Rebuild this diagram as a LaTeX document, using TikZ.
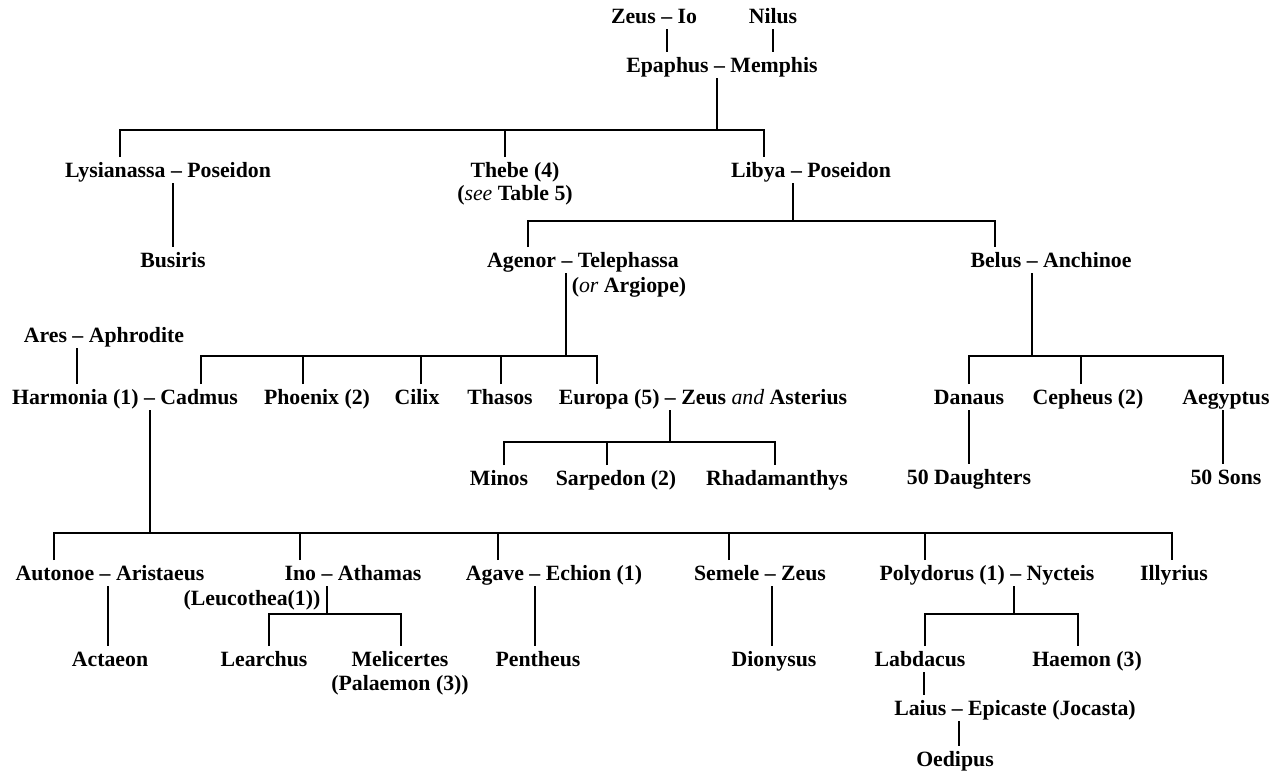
\documentclass[tikz,border=0pt]{standalone}
\usepackage{fontspec}
\setmainfont{Liberation Serif}
\usepackage{tikz}
\usetikzlibrary{calc}
\newcommand{\itword}[1]{{\mdseries\itshape #1}}

\begin{document}
\begin{tikzpicture}[x=0.02cm,y=-0.02cm,
			person/.style={font=\fontsize{12.4}{14}\selectfont\bfseries, text height=10.7pt, text depth=2.5pt, inner xsep=0pt, inner ysep=0.8pt, outer sep=0pt},
			link/.style={line width=1pt}]
			\useasboundingbox (0,0) rectangle (1279,771);
			\node[person] (zeus) at (654,16) {Zeus – Io};
			\node[person] (nilus) at (773,16) {Nilus};
			\node[person] (epaphus) at (722,65) {Epaphus – Memphis};
			\node[person] (lysianassa) at (168,170) {Lysianassa – Poseidon};
			\node[person] (thebe) at (515,170) {Thebe (4)};
			\node[person] (thebenote) at (515,193) {(\itword{see} Table 5)};
			\node[person] (libya) at (811,170) {Libya – Poseidon};
			\node[person] (busiris) at (173,260) {Busiris};
			\node[person] (agenor) at (583,260) {Agenor – Telephassa};
			\node[person] (agenornote) at (629,285) {(\itword{or} Argiope)};
			\node[person] (belus) at (1051,260) {Belus – Anchinoe};
			\node[person] (ares) at (104,335) {Ares – Aphrodite};
			\node[person] (harmonia) at (125,397) {Harmonia (1) – Cadmus};
			\node[person] (phoenix) at (317,397) {Phoenix (2)};
			\node[person] (cilix) at (417,397) {Cilix};
			\node[person] (thasos) at (500,397) {Thasos};
			\node[person] (europa) at (703,397) {Europa (5) – Zeus \itword{and} Asterius};
			\node[person] (danaus) at (969,397) {Danaus};
			\node[person] (cepheus) at (1088,397) {Cepheus (2)};
			\node[person] (aegyptus) at (1226,397) {Aegyptus};
			\node[person] (minos) at (499,478) {Minos};
			\node[person] (sarpedon) at (616,478) {Sarpedon (2)};
			\node[person] (rhadamanthys) at (777,478) {Rhadamanthys};
			\node[person] (daughters) at (969,477) {50 Daughters};
			\node[person] (sons) at (1226,477) {50 Sons};
			\node[person] (autonoe) at (110,573) {Autonoe – Aristaeus};
			\node[person] (ino) at (353,573) {Ino – Athamas};
			\node[person] (inonote) at (252,598) {(Leucothea(1))};
			\node[person] (agave) at (554,573) {Agave – Echion (1)};
			\node[person] (semele) at (760,573) {Semele – Zeus};
			\node[person] (polydorus) at (987,573) {Polydorus (1) – Nycteis};
			\node[person] (illyrius) at (1174,573) {Illyrius};
			\node[person] (actaeon) at (110,659) {Actaeon};
			\node[person] (learchus) at (264,659) {Learchus};
			\node[person] (melicertes) at (400,659) {Melicertes};
			\node[person] (melicertesnote) at (400,683) {(Palaemon (3))};
			\node[person] (pentheus) at (538,659) {Pentheus};
			\node[person] (dionysus) at (774,659) {Dionysus};
			\node[person] (labdacus) at (920,659) {Labdacus};
			\node[person] (haemon) at (1087,659) {Haemon (3)};
			\node[person] (laius) at (1015,708) {Laius – Epicaste (Jocasta)};
			\node[person] (oedipus) at (955,759) {Oedipus};
			\coordinate (epaphusJ) at (717,130);
			\coordinate (libyaJ) at (793,221);
			\coordinate (agenorJ) at (566,356);
			\coordinate (belusJ) at (1032,356);
			\coordinate (europaJ) at (670,442);
			\coordinate (harmoniaJ) at (150,533);
			\coordinate (inoJ) at (327,614);
			\coordinate (polydorusJ) at (1014,614);
			\draw[link] ($(zeus.south)+(13,0)$) -- ($(epaphus.north)+(-55,0)$);
			\draw[link] (nilus.south) -- ($(epaphus.north)+(51,0)$);
			\draw[link] ($(epaphus.south)+(-5,0)$) -- (epaphusJ);
			\draw[link] ($(lysianassa.north)+(-48,0)$) |- (epaphusJ) -| ($(libya.north)+(-47,0)$);
			\draw[link] ($(thebe.north)+(-10,0)$) |- (epaphusJ);
			\draw[link] ($(lysianassa.south)+(5,0)$) -- (busiris.north);
			\draw[link] ($(libya.south)+(-18,0)$) -- (libyaJ);
			\draw[link] ($(agenor.north)+(-55,0)$) |- (libyaJ) -| ($(belus.north)+(-56,0)$);
			\draw[link] ($(agenor.south)+(-17,0)$) -- (agenorJ);
			\draw[link] ($(harmonia.north)+(76,0)$) |- (agenorJ) -| ($(europa.north)+(-106,0)$);
			\draw[link] ($(phoenix.north)+(-14,0)$) |- (agenorJ);
			\draw[link] ($(cilix.north)+(4,0)$) |- (agenorJ);
			\draw[link] ($(thasos.north)+(1,0)$) |- (agenorJ);
			\draw[link] ($(ares.south)+(-27,0)$) -- ($(harmonia.north)+(-48,0)$);
			\draw[link] ($(belus.south)+(-19,0)$) -- (belusJ);
			\draw[link] (danaus.north) |- (belusJ) -| ($(aegyptus.north)+(-3,0)$);
			\draw[link] ($(cepheus.north)+(-7,0)$) |- (belusJ);
			\draw[link] (danaus.south) -- (daughters.north);
			\draw[link] ($(aegyptus.south)+(-3,0)$) -- ($(sons.north)+(-3,0)$);
			\draw[link] ($(europa.south)+(-33,0)$) -- (europaJ);
			\draw[link] ($(minos.north)+(5,0)$) |- (europaJ) -| ($(rhadamanthys.north)+(-2,0)$);
			\draw[link] ($(sarpedon.north)+(-9,0)$) |- (europaJ);
			\draw[link] ($(harmonia.south)+(25,0)$) -- (harmoniaJ);
			\draw[link] ($(autonoe.north)+(-56,0)$) |- (harmoniaJ) -| ($(illyrius.north)+(-2,0)$);
			\draw[link] ($(ino.north)+(-53,0)$) |- (harmoniaJ);
			\draw[link] ($(agave.north)+(-56,0)$) |- (harmoniaJ);
			\draw[link] ($(semele.north)+(-31,0)$) |- (harmoniaJ);
			\draw[link] ($(polydorus.north)+(-62,0)$) |- (harmoniaJ);
			\draw[link] ($(autonoe.south)+(-2,0)$) -- ($(actaeon.north)+(-2,0)$);
			\draw[link] ($(ino.south)+(-26,0)$) -- (inoJ);
			\draw[link] ($(learchus.north)+(5,0)$) |- (inoJ) -| ($(melicertes.north)+(1,0)$);
			\draw[link] ($(agave.south)+(-19,0)$) -- ($(pentheus.north)+(-3,0)$);
			\draw[link] ($(semele.south)+(12,0)$) -- ($(dionysus.north)+(-2,0)$);
			\draw[link] ($(polydorus.south)+(27,0)$) -- (polydorusJ);
			\draw[link] ($(labdacus.north)+(5,0)$) |- (polydorusJ) -| ($(haemon.north)+(-9,0)$);
			\draw[link] ($(labdacus.south)+(4,0)$) -- ($(laius.north)+(-91,0)$);
			\draw[link] ($(laius.south)+(-56,0)$) -- ($(oedipus.north)+(4,0)$);
		\end{tikzpicture}
\end{document}
